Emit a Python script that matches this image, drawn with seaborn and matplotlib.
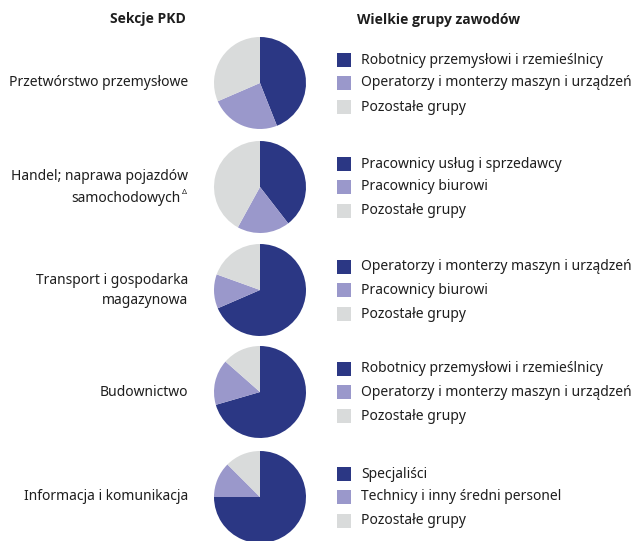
import matplotlib
matplotlib.use("Agg")
import matplotlib.pyplot as plt
import seaborn as sns
from matplotlib.patches import Rectangle

sns.set_theme(style="white")
plt.rcParams['font.family'] = ['Noto Sans', 'DejaVu Sans']

# Dane (udział w %)
sections = [
    "Przetwórstwo przemysłowe",
    "Handel; naprawa pojazdów\nsamochodowych",
    "Transport i gospodarka\nmagazynowa",
    "Budownictwo",
    "Informacja i komunikacja",
]
first_group = [
    "Robotnicy przemysłowi i rzemieślnicy",
    "Pracownicy usług i sprzedawcy",
    "Operatorzy i monterzy maszyn i urządzeń",
    "Robotnicy przemysłowi i rzemieślnicy",
    "Specjaliści",
]
second_group = [
    "Operatorzy i monterzy maszyn i urządzeń",
    "Pracownicy biurowi",
    "Pracownicy biurowi",
    "Operatorzy i monterzy maszyn i urządzeń",
    "Technicy i inny średni personel",
]
other_label = "Pozostałe grupy"
first_share = [44.0, 39.5, 68.5, 70.5, 75.0]
second_share = [24.5, 18.5, 12.0, 16.0, 12.5]
other_share = [31.5, 42.0, 19.5, 13.5, 12.5]

COLORS = ["#2b3784", "#9a98cb", "#d9dbdb"]
TXT = "#1e1e1e"
HEAD_FONT = ['Open Sans', 'Lato', 'DejaVu Sans']

W, H = 643, 541
fig = plt.figure(figsize=(W / 100, H / 100), dpi=100)
fig.patch.set_facecolor("white")


def fx(px):
    return px / W


def fy(py):
    return 1 - py / H


fig.text(fx(148), fy(19), "Sekcje PKD", ha="center", va="center",
         fontsize=10, fontweight="bold", family=HEAD_FONT, color=TXT)
fig.text(fx(357), fy(20), "Wielkie grupy zawodów", ha="left", va="center",
         fontsize=10, fontweight="bold", family=HEAD_FONT, color=TXT)

centers = [83, 187, 290, 392, 497]
radius = 46
row_offsets = [-23, 0, 24]

for i, cy in enumerate(centers):
    ax = fig.add_axes([fx(260 - radius), fy(cy + radius),
                       2 * radius / W, 2 * radius / H])
    vals = [first_share[i], second_share[i], other_share[i]]
    ax.pie(vals, colors=COLORS, startangle=90, counterclock=False,
           wedgeprops=dict(linewidth=0))
    ax.set_xlim(-1.0, 1.0)
    ax.set_ylim(-1.0, 1.0)
    ax.set_aspect("equal")
    ax.axis("off")

    # etykieta sekcji
    lines = sections[i].split("\n")
    if len(lines) == 1:
        fig.text(fx(188), fy(cy), lines[0], ha="right", va="center",
                 fontsize=10, color=TXT)
    else:
        fig.text(fx(188), fy(cy - 10), lines[0], ha="right", va="center",
                 fontsize=10, color=TXT)
        right = 188 if i != 1 else 181
        fig.text(fx(right), fy(cy + 11), lines[1], ha="right", va="center",
                 fontsize=10, color=TXT)
        if i == 1:
            fig.text(fx(182), fy(cy + 5), "Δ", ha="left", va="center",
                     fontsize=5.5, color=TXT)

    # legenda
    labels = [first_group[i], second_group[i], other_label]
    for j, (lab, col) in enumerate(zip(labels, COLORS)):
        ry = cy + row_offsets[j]
        fig.patches.append(Rectangle((fx(337), fy(ry + 7)), 14 / W, 14 / H,
                                     transform=fig.transFigure,
                                     facecolor=col, edgecolor="none"))
        fig.text(fx(361), fy(ry), lab, ha="left", va="center",
                 fontsize=10, color=TXT)

fig.savefig("out.png", dpi=100, facecolor="white")
